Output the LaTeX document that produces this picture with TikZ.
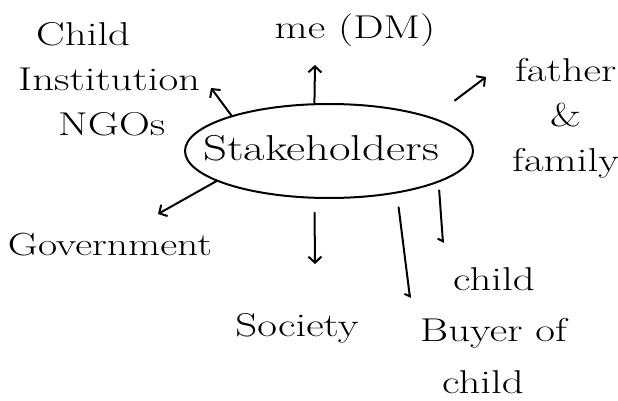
\documentclass[tikz,border=0pt]{standalone}
\usetikzlibrary{shapes.geometric,arrows.meta}
\newcommand{\hw}[1]{\scalebox{1.3}[1]{#1}}
\begin{document}
\begin{tikzpicture}[x=1pt,y=-1pt,
  hand/.style={line width=2pt, line cap=round, line join=round},
  arr/.style={hand, -{Straight Barb[length=6pt,width=13pt,line width=2pt]}},
  hook/.style={hand, -{Straight Barb[right,length=3pt,width=10pt,line width=2pt]}},
  lbl/.style={inner sep=0pt, align=center, font=\fontsize{33}{45}\selectfont}]
\useasboundingbox (0,0) rectangle (618,401);
\node[ellipse, draw, line width=2pt, minimum width=288pt, minimum height=94pt, inner sep=0pt] (stake) at (329,151) {};
\node[lbl, font=\fontsize{36}{40}\selectfont] (stxt) at (321,148) {\hw{Stakeholders}};
\node[lbl] (me) at (355,30) {\hw{me (DM)}};
\node[lbl, align=left, anchor=west] (ngo) at (18,79) {\hspace*{18pt}\hw{Child}\\\hw{Institution}\\\hspace*{40pt}\hw{NGOs}};
\node[lbl, anchor=west] (father) at (512,118) {\hw{father}\\\hw{\&}\\\hw{family}};
\node[lbl, font=\fontsize{32}{40}\selectfont] (gov) at (110,245) {\hw{Government}};
\node[lbl] (soc) at (297,328) {\hw{Society}};
\node[lbl] (child) at (494,279) {\hw{child}};
\node[lbl, align=left, anchor=west, font=\fontsize{33}{52}\selectfont] (buyer) at (420,356) {\hw{Buyer of}\\\hspace*{22pt}\hw{child}};
\coordinate (tme) at (315,65);
\coordinate (tngo) at (211,88);
\coordinate (tfa) at (486,77);
\coordinate (tgov) at (158,214);
\coordinate (tsoc) at (315,264);
\coordinate (tbuy) at (410,298);
\coordinate (tchi) at (443,243);
\draw[arr] (stake.107) -- (tme);
\draw[arr] (stake.160) -- (tngo);
\draw[arr, shorten <=28pt] (stake.18) -- (tfa);
\draw[arr] (stake.195) -- (tgov);
\draw[arr, shorten <=14pt] (stake.253) -- (tsoc);
\draw[hook, shorten <=14pt] (stake.328) -- (tbuy);
\draw[hook, shorten <=8pt] (stake.344) -- (tchi);
\end{tikzpicture}
\end{document}
